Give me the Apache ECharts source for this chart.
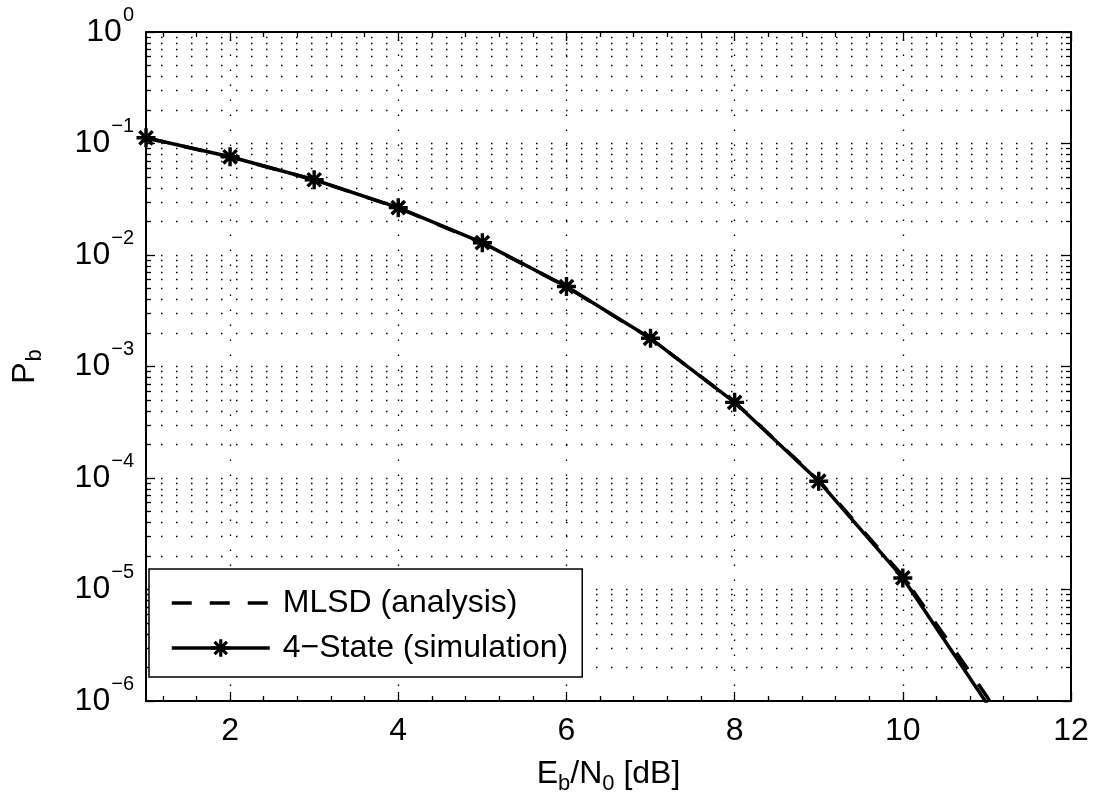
<!DOCTYPE html>
<html>
<head>
<meta charset="utf-8">
<script src="https://cdn.jsdelivr.net/npm/echarts@6/dist/echarts.min.js"></script>
<style>
html,body{margin:0;padding:0;background:#fff;}
#chart{width:1095px;height:800px;}
</style>
</head>
<body>
<div id="chart"></div>
<script>
// ---- data ----
const ebn0Sim = [1, 2, 3, 4, 5, 6, 7, 8, 9, 10, 11];
const pbSim = [0.1125, 0.076, 0.0473, 0.0266, 0.0129, 0.00521, 0.00179, 0.000477, 0.0000936, 0.0000127, 0.00000095];
const ebn0Ana = [1, 2, 3, 4, 5, 6, 7, 8, 9, 10, 11, 12];
const pbAna = [0.1122, 0.0758, 0.0472, 0.0265, 0.0128, 0.0052, 0.00178, 0.00048, 0.000095, 0.0000132, 0.0000011, 0.00000006];
const nameAna = 'MLSD (analysis)';
const nameSim = '4\u2212State (simulation)';
const xMajorTicks = [2, 4, 6, 8, 10, 12];
const xMinorTicks = [1.2, 1.6, 2.4, 2.8, 3.2, 3.6, 4.4, 4.8, 5.2, 5.6, 6.4, 6.8, 7.2, 7.6, 8.4, 8.8, 9.2, 9.6, 10.4, 10.8, 11.2, 11.6];
const xGridValues = [2, 4, 6, 8, 10];
const yDecadeExps = [-6, -5, -4, -3, -2, -1, 0];
const yMantissas = [2, 3, 4, 5, 6, 7, 8, 9];

const FONT = "'Liberation Sans', Arial, Helvetica, sans-serif";
const yMinorTicks = [];
yDecadeExps.slice(0, -1).forEach(e => yMantissas.forEach(m => yMinorTicks.push(+(m * Math.pow(10, e)).toPrecision(3))));
const yGridValues = yDecadeExps.slice(1, -1).map(e => Math.pow(10, e)).concat(yMinorTicks);

const asterisk = 'path://M8.2,0H11.8V20H8.2Z M0,8.2H20V11.8H0Z M4.27,1.73L18.27,15.73L15.73,18.27L1.73,4.27Z M18.27,4.27L4.27,18.27L1.73,15.73L15.73,1.73Z';

const dotted = {color: '#000', width: 1.3, type: [1.5, 13.5]};

function xAx(pos, major, withLabels, showLine) {
  return {
    type: 'value', min: 1, max: 12, position: pos,
    axisLine: {show: showLine, onZero: false, lineStyle: {color: '#000', width: 2}},
    axisTick: {show: true, inside: true, length: major ? 9 : 5, customValues: major ? xMajorTicks : xMinorTicks, lineStyle: {color: '#000', width: 1.3}},
    axisLabel: withLabels ? {show: true, customValues: xMajorTicks, color: '#000', fontSize: 32, fontFamily: FONT, margin: 14} : {show: false},
    splitLine: {show: false}
  };
}
function yAx(pos, major, withLabels, showLine) {
  const o = {
    type: 'log', logBase: 10, min: 1e-6, max: 1, position: pos,
    axisLine: {show: showLine, onZero: false, lineStyle: {color: '#000', width: 2}},
    axisTick: {show: true, inside: true, length: major ? 9 : 5, lineStyle: {color: '#000', width: 1.3}},
    axisLabel: {show: false},
    splitLine: {show: false}
  };
  if (!major) o.axisTick.customValues = yMinorTicks;
  if (withLabels) {
    o.axisLabel = {
      show: true, margin: 12, color: '#000', fontFamily: FONT,
      formatter: function (v) {
        const e = Math.round(Math.log10(v));
        return '{b|10}{e|' + (e === 0 ? '0' : '\u2212' + (-e)) + '}';
      },
      rich: {
        b: {fontSize: 32, fontFamily: FONT, color: '#000'},
        e: {fontSize: 20, fontFamily: FONT, color: '#000', padding: [0, 0, 34, 1]}
      }
    };
    o.name = '{n|P}{s|b}';
    o.nameLocation = 'middle';
    o.nameRotate = 90;
    o.nameGap = 100;
    o.nameTextStyle = {
      rich: {
        n: {fontSize: 32, fontFamily: FONT, color: '#000'},
        s: {fontSize: 22, fontFamily: FONT, color: '#000', padding: [20, 0, 0, 1]}
      }
    };
  }
  return o;
}

const xAxes = [xAx('bottom', true, true, true), xAx('bottom', false, false, false), xAx('top', true, false, true), xAx('top', false, false, false)];
xAxes[0].name = '{n|E}{s|b}{n|/N}{s|0}{n| [dB]}';
xAxes[0].nameLocation = 'middle';
xAxes[0].nameGap = 52;
xAxes[0].nameTextStyle = {
  rich: {
    n: {fontSize: 32, fontFamily: FONT, color: '#000'},
    s: {fontSize: 22, fontFamily: FONT, color: '#000', padding: [20, 0, 0, 0]}
  }
};
const yAxes = [yAx('left', true, true, true), yAx('left', false, false, false), yAx('right', true, false, true), yAx('right', false, false, false)];

const chart = echarts.init(document.getElementById('chart'), null, {renderer: 'canvas'});
chart.setOption({
  animation: false,
  backgroundColor: '#fff',
  grid: {left: 146, right: 24, top: 32, bottom: 98, containLabel: false},
  xAxis: xAxes,
  yAxis: yAxes,
  legend: {
    orient: 'vertical', left: 149, top: 569, z: 20,
    data: [{name: nameAna, itemStyle: {opacity: 0}}, {name: nameSim}],
    itemWidth: 98, itemHeight: 22, itemGap: 13,
    padding: [18, 14, 13, 21],
    lineStyle: {width: 3.5},
    backgroundColor: '#fff', borderColor: '#000', borderWidth: 1.5, borderRadius: 0,
    textStyle: {fontSize: 32, fontFamily: FONT, color: '#000', padding: [0, 0, 0, 8]}
  },
  series: [
    {
      name: nameAna, type: 'line', xAxisIndex: 0, yAxisIndex: 0,
      data: ebn0Ana.map((x, i) => [x, pbAna[i]]),
      symbol: 'none', clip: true, z: 3,
      lineStyle: {color: '#000', width: 3.5, type: [20, 18]},
      itemStyle: {color: '#000'},
      markLine: {
        silent: true, symbol: ['none', 'none'], label: {show: false}, animation: false,
        precision: 12, z: 1,
        lineStyle: dotted, emphasis: {disabled: true},
        data: xGridValues.map(v => ({xAxis: v})).concat(yGridValues.map(v => ({yAxis: v})))
      }
    },
    {
      name: nameSim, type: 'line', xAxisIndex: 0, yAxisIndex: 0,
      data: ebn0Sim.map((x, i) => [x, pbSim[i]]),
      symbol: asterisk, symbolSize: 19, clip: true, z: 4,
      lineStyle: {color: '#000', width: 3.5},
      itemStyle: {color: '#000', borderWidth: 0}
    }
  ]
});
</script>
</body>
</html>
